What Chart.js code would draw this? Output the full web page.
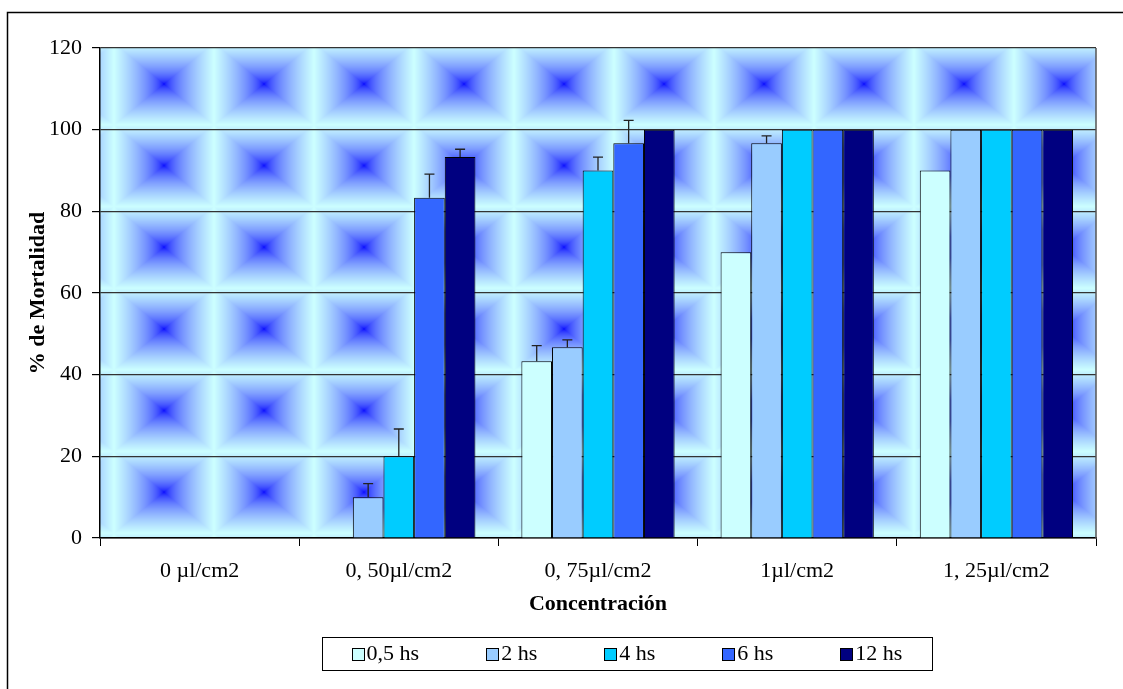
<!DOCTYPE html>
<html>
<head>
<meta charset="utf-8">
<script src="https://cdn.jsdelivr.net/npm/chart.js@4"></script>
<style>
    body { margin: 0; background: #fff; }
    #wrap { width: 1123px; height: 689px; }
</style>
</head>
<body>
<div id="wrap"><canvas id="chart" width="1123" height="689"></canvas></div>
<script>
// Data
const categories = ['0 µl/cm2', '0, 50µl/cm2', '0, 75µl/cm2', '1µl/cm2', '1, 25µl/cm2'];
const seriesLabels = ['0,5 hs', '2 hs', '4 hs', '6 hs', '12 hs'];
const seriesColors = ['#CCFFFF', '#99CCFF', '#00CCFF', '#3366FF', '#000080'];

const mort05 = [0, 0, 43.3, 70, 90];
const mort2 = [0, 10, 46.7, 96.7, 100];
const mort4 = [0, 20, 90, 100, 100];
const mort6 = [0, 83.3, 96.7, 100, 100];
const mort12 = [0, 93.3, 100, 100, 100];

// upper error (only drawn above the bar)
const err05 = [0, 0, 3.8, 0, 0];
const err2 = [0, 3.3, 1.8, 1.8, 0];
const err4 = [0, 6.7, 3.3, 0, 0];
const err6 = [0, 5.8, 5.6, 0, 0];
const err12 = [0, 1.9, 0, 0, 0];

const yTicks = [0, 20, 40, 60, 80, 100, 120];

const allValues = [mort05, mort2, mort4, mort6, mort12];
const allErrors = [err05, err2, err4, err6, err12];

const FONT = '"Liberation Serif", "Times New Roman", serif';
Chart.defaults.font.family = FONT;
Chart.defaults.font.size = 22;
Chart.defaults.color = '#000';

// Background tile: square gradient, blue in the middle, pale cyan at the edges
function makeTile(w, h) {
    const c = document.createElement('canvas');
    c.width = w;
    c.height = h;
    const g = c.getContext('2d');
    const img = g.createImageData(w, h);
    const from = [0, 0, 255];
    const to = [204, 255, 255];
    for (let y = 0; y < h; y++) {
        for (let x = 0; x < w; x++) {
            const dx = Math.abs(x + 0.5 - w / 2) / (w / 2);
            const dy = Math.abs(y + 0.5 - h / 2) / (h / 2);
            const t = Math.pow(Math.min(1, Math.max(dx, dy)), 0.55);
            const i = (y * w + x) * 4;
            img.data[i] = from[0] + (to[0] - from[0]) * t;
            img.data[i + 1] = from[1] + (to[1] - from[1]) * t;
            img.data[i + 2] = from[2] + (to[2] - from[2]) * t;
            img.data[i + 3] = 255;
        }
    }
    g.putImageData(img, 0, 0);
    return c;
}
const tile = makeTile(100, 82);

const backgroundPlugin = {
    id: 'plotBackground',
    beforeDraw(chart) {
        const { ctx, chartArea: a } = chart;
        const tw = 100;
        const th = (a.bottom - a.top) / 6;
        ctx.save();
        ctx.beginPath();
        ctx.rect(a.left, a.top, a.right - a.left, a.bottom - a.top);
        ctx.clip();
        for (let y = a.top - 5; y < a.bottom; y += th) {
            for (let x = a.left - 86; x < a.right; x += tw) {
                ctx.drawImage(tile, x, y, tw, th);
            }
        }
        ctx.restore();
    },
    afterDraw(chart) {
        const { ctx, chartArea: a } = chart;
        ctx.save();
        // right edge of the plot
        ctx.strokeStyle = '#555';
        ctx.lineWidth = 1.5;
        ctx.beginPath();
        ctx.moveTo(a.right, a.top);
        ctx.lineTo(a.right, a.bottom);
        ctx.stroke();
        // outer frame (runs off the right and bottom of the picture)
        ctx.strokeStyle = '#000';
        ctx.lineWidth = 1.5;
        ctx.strokeRect(7.5, 12.5, 1300, 900);
        ctx.restore();
    }
};

const errorBarPlugin = {
    id: 'errorBars',
    afterDatasetsDraw(chart) {
        const { ctx } = chart;
        const yScale = chart.scales.y;
        ctx.save();
        ctx.strokeStyle = '#222';
        ctx.lineWidth = 1.3;
        chart.data.datasets.forEach((ds, i) => {
            const meta = chart.getDatasetMeta(i);
            ds.errUp.forEach((e, j) => {
                if (!e) return;
                const bar = meta.data[j];
                const yTop = yScale.getPixelForValue(ds.data[j] + e);
                ctx.beginPath();
                ctx.moveTo(bar.x, bar.y);
                ctx.lineTo(bar.x, yTop);
                ctx.moveTo(bar.x - 5, yTop);
                ctx.lineTo(bar.x + 5, yTop);
                ctx.stroke();
            });
        });
        ctx.restore();
    }
};

// Legend drawn in its own bordered box below the axis title
const legendPlugin = {
    id: 'boxLegend',
    afterDraw(chart) {
        const { ctx } = chart;
        const box = { left: 322, top: 637, width: 610, height: 33 };
        const sw = 12, gap = 3, spacing = 67;
        ctx.save();
        ctx.font = '22px ' + FONT;
        ctx.strokeStyle = '#000';
        ctx.lineWidth = 1;
        ctx.strokeRect(box.left + 0.5, box.top + 0.5, box.width, box.height);

        const items = chart.data.datasets.map(ds => ({
            label: ds.label,
            color: ds.backgroundColor,
            w: sw + gap + ctx.measureText(ds.label).width
        }));
        const total = items.reduce((s, it) => s + it.w, 0) + spacing * (items.length - 1);
        let x = box.left + box.width / 2 - total / 2;
        const cy = box.top + box.height / 2;
        ctx.textBaseline = 'middle';
        items.forEach(it => {
            ctx.fillStyle = it.color;
            ctx.fillRect(Math.round(x) + 0.5, Math.round(cy - sw / 2) + 0.5, sw, sw);
            ctx.strokeRect(Math.round(x) + 0.5, Math.round(cy - sw / 2) + 0.5, sw, sw);
            ctx.fillStyle = '#000';
            ctx.fillText(it.label, x + sw + gap, cy + 1);
            x += it.w + spacing;
        });
        ctx.restore();
    }
};

const datasets = seriesLabels.map((label, i) => ({
    label: label,
    data: allValues[i],
    errUp: allErrors[i],
    backgroundColor: seriesColors[i],
    borderColor: '#000',
    borderWidth: 1,
    categoryPercentage: 5 / 6.5,
    barPercentage: 1
}));

new Chart(document.getElementById('chart'), {
    type: 'bar',
    data: { labels: categories, datasets: datasets },
    plugins: [backgroundPlugin, errorBarPlugin, legendPlugin],
    options: {
        responsive: false,
        animation: false,
        layout: { padding: { top: 48, right: 27, bottom: 71, left: 0 } },
        plugins: {
            legend: { display: false },
            tooltip: { enabled: false }
        },
        scales: {
            x: {
                grid: {
                    offset: true,
                    drawOnChartArea: false,
                    tickLength: 8,
                    tickColor: '#000'
                },
                border: { color: '#000', width: 1.5 },
                ticks: { padding: 12, maxRotation: 0, autoSkip: false, font: { size: 22 } },
                title: {
                    display: true,
                    text: 'Concentración',
                    font: { size: 22, weight: 'bold' },
                    padding: { top: 0, bottom: 0 }
                },
                afterFit(scale) { scale.height = 80; }
            },
            y: {
                min: 0,
                max: 120,
                afterBuildTicks(scale) { scale.ticks = yTicks.map(v => ({ value: v })); },
                grid: {
                    color: '#333',
                    lineWidth: 1.2,
                    tickLength: 8,
                    tickColor: '#000'
                },
                border: { color: '#000', width: 1.5 },
                ticks: { padding: 10, font: { size: 22 } },
                title: {
                    display: true,
                    text: '% de Mortalidad',
                    font: { size: 22, weight: 'bold' },
                    padding: { top: 25, bottom: 0 }
                },
                afterFit(scale) { scale.width = 100; }
            }
        }
    }
});
</script>
</body>
</html>
